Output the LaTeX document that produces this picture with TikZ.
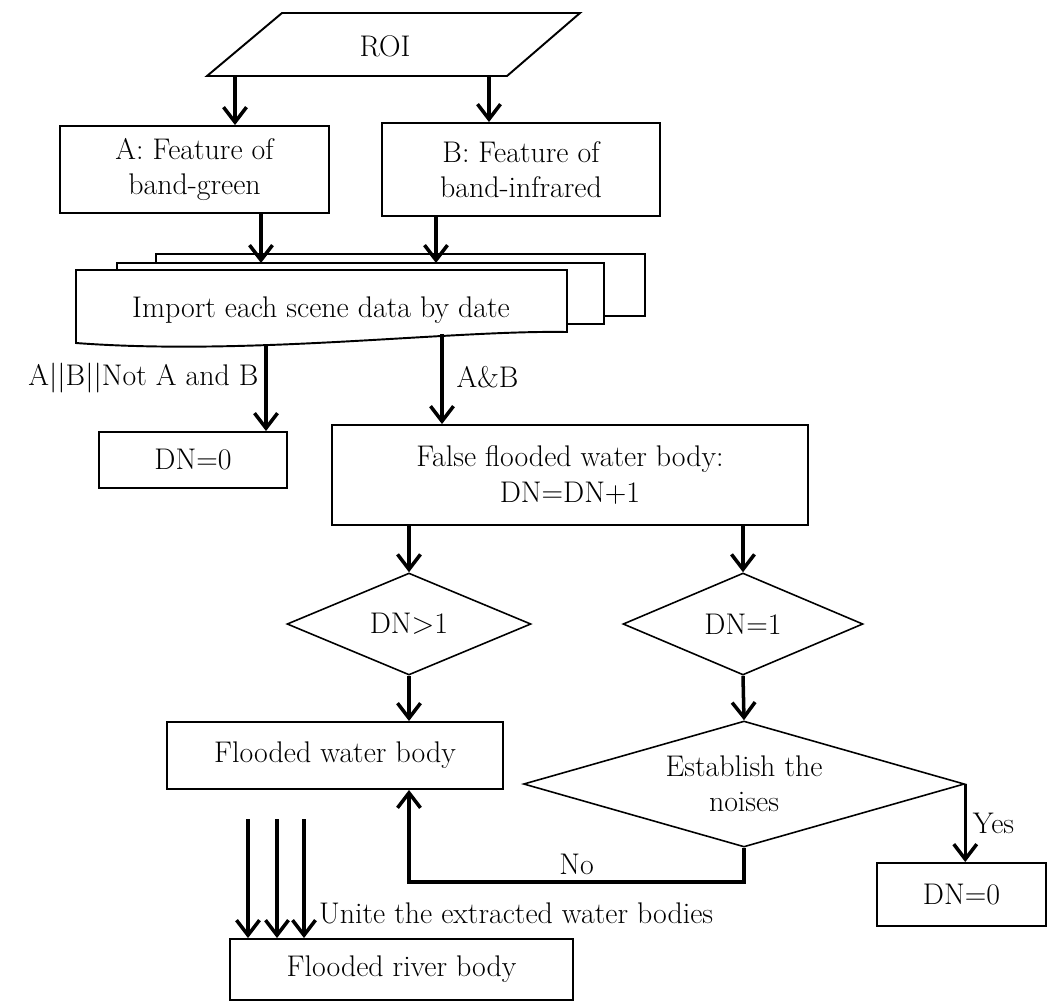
\documentclass[tikz,border=0pt]{standalone}
\usepackage{fontspec}
\usepackage{tikz}
\usetikzlibrary{arrows.meta,shapes.geometric,positioning}
\tikzset{
  procbox/.style = {draw, line width=1.1pt, fill=white, align=center, inner sep=0pt},
  decision/.style = {diamond, draw, line width=0.9pt, fill=white, align=center, inner sep=0pt},
  flow/.style = {-{Straight Barb[length=0.3cm,width=0.46cm]}, line width=2pt},
}

\begin{document}
\begin{tikzpicture}[x=0.02cm, y=-0.02cm, font=\fontsize{17}{20}\selectfont]
  \fill[white] (0,0) rectangle (1048,1002);
  \useasboundingbox (0,0) rectangle (1048,1002);

  % Region of interest
  \draw[procbox] (207,76) -- (282,13) -- (580,13) -- (507,76) -- cycle;
  \node (roi) at (385,46) {ROI};
  \coordinate (roiA) at (235,76);
  \coordinate (roiB) at (489,76);

  % Band features
  \node[procbox, minimum width=5.38cm, minimum height=1.74cm] (feata) at (194.5,169.5) {A: Feature of\\band-green};
  \node[procbox, minimum width=5.56cm, minimum height=1.86cm] (featb) at (521,169.5) {B: Feature of\\band-infrared};
  \draw[flow] (roiA) -- (roiA |- feata.north);
  \draw[flow] (roiB) -- (roiB |- featb.north);

  % Stack of scenes
  \draw[procbox] (156,254) rectangle (645,316);
  \draw[procbox] (117,263) rectangle (604,324);
  \draw[procbox] (76,270) -- (567,270) -- (567,332) .. controls (450,330) and (250,356) .. (76,343) -- cycle;
  \node (scene) at (321,310) {Import each scene data by date};
  \coordinate (sceneinA) at (261,263);
  \coordinate (sceneinB) at (436,263);
  \coordinate (sceneoutA) at (266,346);
  \coordinate (sceneoutB) at (442,334);
  \draw[flow] (feata.south -| sceneinA) -- (sceneinA);
  \draw[flow] (featb.south -| sceneinB) -- (sceneinB);

  % First split
  \node[procbox, minimum width=3.76cm, minimum height=1.12cm] (dnzeroa) at (193,460) {DN=0};
  \node[procbox, minimum width=9.52cm, minimum height=2cm] (falsewb) at (570,475) {False flooded water body:\\DN=DN+1};
  \draw[flow] (sceneoutA) -- (sceneoutA |- dnzeroa.north) node[pos=0.38, left] {A||B||Not A and B};
  \draw[flow] (sceneoutB) -- (sceneoutB |- falsewb.north) node[pos=0.48, right, xshift=4pt] {A\&B};

  % Decisions
  \node[decision, minimum width=4.88cm, minimum height=2.04cm, aspect=2.4] (gtone) at (409,624) {DN>1};
  \node[decision, minimum width=4.8cm, minimum height=2.04cm, aspect=2.35] (eqone) at (743,624) {DN=1};
  \draw[flow] (gtone.north |- falsewb.south) -- (gtone.north);
  \draw[flow] (eqone.north |- falsewb.south) -- (eqone.north);

  \node[procbox, minimum width=6.72cm, minimum height=1.34cm] (floodwb) at (335,755.5) {Flooded water body};
  \node[decision, minimum width=8.82cm, minimum height=2.52cm, aspect=3.5] (noise) at (744,784) {Establish the\\noises};
  \node[procbox, minimum width=3.38cm, minimum height=1.26cm] (dnzerob) at (961.5,894.5) {DN=0};
  \draw[flow] (gtone.south) -- (gtone.south |- floodwb.north);
  \draw[flow] (eqone.south) -- (noise.north);
  \draw[flow] (noise.east) -- (noise.east |- dnzerob.north) node[midway, right] {Yes};
  \coordinate (nobend) at (409,882);
  \draw[flow] (noise.south) |- (nobend) node[pos=0.75, above] {No} -- (nobend |- floodwb.south);

  % Union
  \node[procbox, minimum width=6.86cm, minimum height=1.22cm] (river) at (401.5,969.5) {Flooded river body};
  \foreach \x/\n in {248/1,277/2,304/3}{
    \coordinate (unite\n) at (\x,819);
    \draw[flow] (unite\n) -- (unite\n |- river.north);
  }
  \node[anchor=west] (unitetext) at (313,913) {Unite the extracted water bodies};
\end{tikzpicture}
\end{document}
